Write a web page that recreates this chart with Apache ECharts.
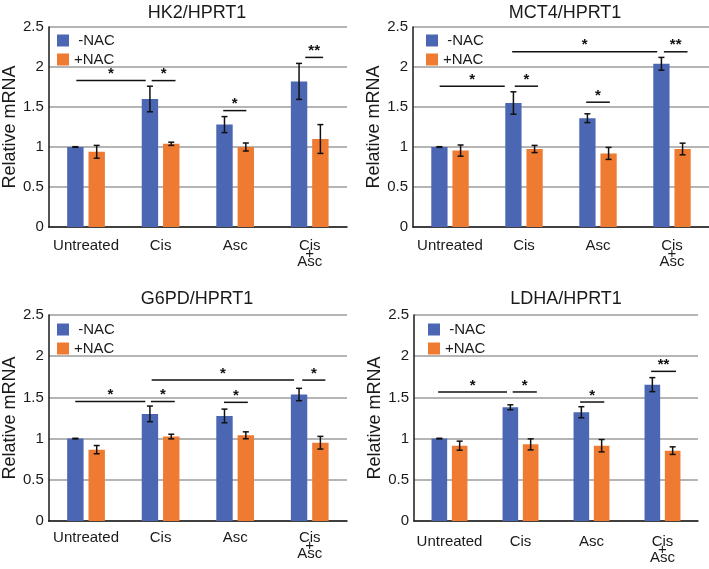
<!DOCTYPE html>
<html>
<head>
<meta charset="utf-8">
<script src="https://cdn.jsdelivr.net/npm/echarts@6/dist/echarts.min.js"></script>
<style>
  html, body { margin: 0; padding: 0; background: #fff; }
  #chart { width: 709px; height: 569px; }
</style>
</head>
<body>
<div id="chart"></div>
<script>
// categories shared by all four panels
const categories = ['Untreated', 'Cis', 'Asc', 'Cis\n+\nAsc'];
const seriesNames = ['-NAC', '+NAC'];

// HK2/HPRT1
const hk2NoNac = [1.00, 1.60, 1.28, 1.82];
const hk2NoNacErr = [0.004, 0.16, 0.10, 0.225];
const hk2Nac = [0.94, 1.04, 1.00, 1.10];
const hk2NacErr = [0.08, 0.02, 0.05, 0.18];
// significance bars: [from, to] in category units, height, mark
const hk2Sig = [[-0.13, 0.80, 1.83, '*'], [0.88, 1.20, 1.83, '*'], [1.84, 2.15, 1.455, '*'], [2.94, 3.18, 2.12, '**']];

// MCT4/HPRT1
const mct4NoNac = [1.00, 1.55, 1.36, 2.04];
const mct4NoNacErr = [0.004, 0.14, 0.055, 0.08];
const mct4Nac = [0.955, 0.975, 0.92, 0.975];
const mct4NacErr = [0.07, 0.045, 0.075, 0.073];
const mct4Sig = [[-0.14, 0.74, 1.76, '*'], [0.875, 1.19, 1.76, '*'], [1.84, 2.16, 1.56, '*'], [0.84, 2.80, 2.19, '*'], [2.89, 3.21, 2.19, '**']];

// G6PD/HPRT1
const g6pdNoNac = [1.00, 1.30, 1.275, 1.535];
const g6pdNoNacErr = [0.004, 0.095, 0.083, 0.075];
const g6pdNac = [0.866, 1.025, 1.04, 0.95];
const g6pdNacErr = [0.05, 0.028, 0.042, 0.077];
const g6pdSig = [[-0.144, 0.795, 1.45, '*'], [0.87, 1.19, 1.45, '*'], [1.85, 2.17, 1.44, '*'], [0.88, 2.79, 1.71, '*'], [2.90, 3.21, 1.71, '*']];

// LDHA/HPRT1
const ldhaNoNac = [1.00, 1.38, 1.32, 1.655];
const ldhaNoNacErr = [0.004, 0.03, 0.067, 0.085];
const ldhaNac = [0.914, 0.93, 0.914, 0.854];
const ldhaNacErr = [0.055, 0.067, 0.075, 0.046];
const ldhaSig = [[-0.16, 0.81, 1.566, '*'], [0.89, 1.23, 1.566, '*'], [1.84, 2.18, 1.444, '*'], [2.84, 3.19, 1.816, '**']];

const panels = [
  { title: 'HK2/HPRT1', noNac: hk2NoNac, noNacErr: hk2NoNacErr, nac: hk2Nac, nacErr: hk2NacErr, sig: hk2Sig },
  { title: 'MCT4/HPRT1', noNac: mct4NoNac, noNacErr: mct4NoNacErr, nac: mct4Nac, nacErr: mct4NacErr, sig: mct4Sig },
  { title: 'G6PD/HPRT1', noNac: g6pdNoNac, noNacErr: g6pdNoNacErr, nac: g6pdNac, nacErr: g6pdNacErr, sig: g6pdSig },
  { title: 'LDHA/HPRT1', noNac: ldhaNoNac, noNacErr: ldhaNoNacErr, nac: ldhaNac, nacErr: ldhaNacErr, sig: ldhaSig }
];

// layout per panel
const layout = [
  { grid: { left: 45, right: 362, top: 27, bottom: 342 }, titleX: 197, titleY: 4, legendX: 57, legendY: 33, nameGap: 26, labelMargin: 15 },
  { grid: { left: 413, right: 0, top: 27, bottom: 342 }, titleX: 565, titleY: 4, legendX: 426, legendY: 33, nameGap: 24, labelMargin: 15 },
  { grid: { left: 45, right: 362, top: 315, bottom: 48 }, titleX: 197, titleY: 290, legendX: 57, legendY: 322, nameGap: 26, labelMargin: 13 },
  { grid: { left: 414, right: 11, top: 315, bottom: 48 }, titleX: 566, titleY: 290, legendX: 428, legendY: 322, nameGap: 25, labelMargin: 17 }
];

const FONT = 'Liberation Sans, Arial, Helvetica, sans-serif';
const BLUE = '#4b67b4';
const ORANGE = '#ef7a31';
const INK = '#1a1a1a';
const BAR_PCT = 0.22;
const GAP_PCT = 0.3;

const chart = echarts.init(document.getElementById('chart'));

let option = {
  backgroundColor: '#fff',
  animation: false,
  textStyle: { fontFamily: FONT },
  title: [],
  legend: [],
  grid: [],
  xAxis: [],
  yAxis: [],
  series: []
};

panels.forEach((p, k) => {
  const L = layout[k];
  option.title.push({
    text: p.title,
    left: L.titleX,
    top: L.titleY,
    textAlign: 'center',
    padding: 0,
    textStyle: { fontFamily: FONT, fontSize: 18, fontWeight: 'normal', color: INK }
  });
  option.legend.push({
    data: seriesNames,
    orient: 'vertical',
    left: L.legendX,
    top: L.legendY,
    padding: 0,
    itemWidth: 12,
    itemHeight: 12,
    itemGap: 4,
    icon: 'rect',
    formatter: name => (name === '-NAC' ? ' -NAC' : name),
    textStyle: { fontFamily: FONT, fontSize: 15, color: INK, lineHeight: 14 }
  });
  option.grid.push(Object.assign({ containLabel: false }, L.grid));
  option.xAxis.push({
    type: 'category',
    gridIndex: k,
    data: categories,
    axisLine: { show: true, lineStyle: { color: INK, width: 1.5 } },
    axisTick: { show: false },
    axisLabel: { interval: 0, margin: L.labelMargin, fontFamily: FONT, fontSize: 15, color: INK, lineHeight: 8 }
  });
  option.yAxis.push({
    type: 'value',
    gridIndex: k,
    min: 0,
    max: 2.5,
    interval: 0.5,
    name: 'Relative mRNA',
    nameLocation: 'middle',
    nameGap: L.nameGap,
    nameTextStyle: { fontFamily: FONT, fontSize: 18, color: INK },
    axisLine: { show: true, lineStyle: { color: INK, width: 1.5 } },
    axisTick: { show: false },
    axisLabel: { margin: 5, fontFamily: FONT, fontSize: 15, color: INK },
    splitLine: { show: true, lineStyle: { color: '#9d9d9d', width: 1.5 } }
  });

  option.series.push({
    name: '-NAC', type: 'bar', xAxisIndex: k, yAxisIndex: k,
    data: p.noNac, barWidth: (BAR_PCT * 100) + '%', barGap: (GAP_PCT * 100) + '%',
    itemStyle: { color: BLUE }
  });
  option.series.push({
    name: '+NAC', type: 'bar', xAxisIndex: k, yAxisIndex: k,
    data: p.nac, barWidth: (BAR_PCT * 100) + '%', barGap: (GAP_PCT * 100) + '%',
    itemStyle: { color: ORANGE }
  });

  // error bars: [category, mean, error, side]
  const errData = [];
  p.noNac.forEach((v, i) => errData.push([i, v, p.noNacErr[i], -1]));
  p.nac.forEach((v, i) => errData.push([i, v, p.nacErr[i], 1]));
  option.series.push({
    type: 'custom', xAxisIndex: k, yAxisIndex: k, z: 5,
    data: errData,
    encode: { x: 0, y: 1 },
    renderItem: (params, api) => {
      const bw = api.size([1, 0])[0];
      const barW = bw * BAR_PCT;
      const off = api.value(3) * (barW + barW * GAP_PCT) / 2;
      const hi = api.coord([api.value(0), api.value(1) + api.value(2)]);
      const lo = api.coord([api.value(0), api.value(1) - api.value(2)]);
      const x = hi[0] + off;
      const cap = 3;
      const st = { stroke: '#111', lineWidth: 1.5 };
      return {
        type: 'group',
        children: [
          { type: 'line', shape: { x1: x, y1: hi[1], x2: x, y2: lo[1] }, style: st },
          { type: 'line', shape: { x1: x - cap, y1: hi[1], x2: x + cap, y2: hi[1] }, style: st },
          { type: 'line', shape: { x1: x - cap, y1: lo[1], x2: x + cap, y2: lo[1] }, style: st }
        ]
      };
    }
  });

  // significance bars: [0, height, from, to]
  const sigData = p.sig.map(s => [0, s[2], s[0], s[1]]);
  const sigMarks = p.sig.map(s => s[3]);
  option.series.push({
    type: 'custom', xAxisIndex: k, yAxisIndex: k, z: 6,
    data: sigData,
    encode: { x: 0, y: 1 },
    renderItem: (params, api) => {
      const bw = api.size([1, 0])[0];
      const base = api.coord([0, api.value(1)]);
      const x1 = base[0] + api.value(2) * bw;
      const x2 = base[0] + api.value(3) * bw;
      const y = base[1];
      return {
        type: 'group',
        children: [
          { type: 'line', shape: { x1: x1, y1: y, x2: x2, y2: y }, style: { stroke: '#111', lineWidth: 1.5 } },
          {
            type: 'text',
            style: {
              text: sigMarks[params.dataIndex], x: (x1 + x2) / 2, y: y + 1,
              align: 'center', verticalAlign: 'bottom',
              font: 'bold 15px ' + FONT, fill: '#111'
            }
          }
        ]
      };
    }
  });
});

chart.setOption(option);
window.addEventListener('resize', () => chart.resize());
</script>
</body>
</html>
